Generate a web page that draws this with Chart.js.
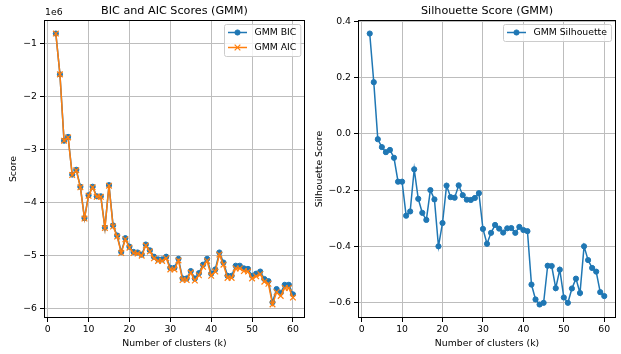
<!DOCTYPE html>
<html>
<head>
<meta charset="utf-8">
<script src="https://cdn.jsdelivr.net/npm/chart.js@4.4.1/dist/chart.umd.min.js"></script>
<style>
  html, body { margin: 0; padding: 0; background: #fff; }
  #wrap { position: relative; width: 621px; height: 354px; }
  canvas { position: absolute; top: 0; }
  #bicChart { left: 0; }
  #silChart { left: 310px; }
</style>
</head>
<body>
<div id="wrap">
  <canvas id="bicChart" width="310" height="354"></canvas>
  <canvas id="silChart" width="311" height="354"></canvas>
</div>
<script>
// number of clusters tried
const kValues = [2, 3, 4, 5, 6, 7, 8, 9, 10, 11, 12, 13, 14, 15, 16, 17, 18, 19, 20,
  21, 22, 23, 24, 25, 26, 27, 28, 29, 30, 31, 32, 33, 34, 35, 36, 37, 38, 39, 40,
  41, 42, 43, 44, 45, 46, 47, 48, 49, 50, 51, 52, 53, 54, 55, 56, 57, 58, 59, 60];

// scores are in units of 1e6 (offset text shown above the axis)
const bicScores = [-0.82, -1.59, -2.84, -2.77, -3.48, -3.39, -3.71, -4.30, -3.87, -3.71,
  -3.89, -3.89, -4.48, -3.68, -4.44, -4.63, -4.94, -4.68, -4.84, -4.94,
  -4.95, -4.99, -4.80, -4.91, -5.03, -5.08, -5.08, -5.03, -5.24, -5.24,
  -5.07, -5.44, -5.44, -5.30, -5.44, -5.34, -5.18, -5.07, -5.35, -5.27,
  -4.95, -5.14, -5.39, -5.39, -5.20, -5.20, -5.25, -5.26, -5.39, -5.35,
  -5.31, -5.45, -5.49, -5.89, -5.64, -5.71, -5.56, -5.56, -5.74];

const aicScores = [-0.82, -1.59, -2.84, -2.78, -3.49, -3.40, -3.72, -4.31, -3.88, -3.72,
  -3.90, -3.90, -4.49, -3.69, -4.46, -4.65, -4.96, -4.70, -4.86, -4.96,
  -4.97, -5.01, -4.82, -4.93, -5.06, -5.11, -5.11, -5.06, -5.27, -5.27,
  -5.10, -5.47, -5.47, -5.33, -5.48, -5.38, -5.22, -5.11, -5.39, -5.31,
  -4.99, -5.18, -5.43, -5.43, -5.25, -5.25, -5.30, -5.31, -5.44, -5.40,
  -5.36, -5.50, -5.54, -5.93, -5.70, -5.77, -5.62, -5.62, -5.80];

const silhouetteScores = [0.357, 0.184, -0.019, -0.047, -0.065, -0.057, -0.085, -0.170, -0.170, -0.291,
  -0.276, -0.126, -0.231, -0.281, -0.306, -0.200, -0.233, -0.400, -0.317, -0.184,
  -0.225, -0.227, -0.183, -0.218, -0.234, -0.235, -0.228, -0.211, -0.338, -0.391,
  -0.352, -0.324, -0.337, -0.351, -0.336, -0.335, -0.352, -0.331, -0.342, -0.346,
  -0.536, -0.589, -0.607, -0.601, -0.469, -0.470, -0.549, -0.483, -0.582, -0.601,
  -0.550, -0.515, -0.566, -0.400, -0.449, -0.477, -0.490, -0.563, -0.577];

const kTicks = [0, 10, 20, 30, 40, 50, 60];
const scoreTicks = [-6, -5, -4, -3, -2, -1];
const silhouetteTicks = [-0.6, -0.4, -0.2, 0.0, 0.2, 0.4];

const BLUE = '#1f77b4';
const ORANGE = '#ff7f0e';
const GRID = '#bdbdbd';

Chart.defaults.font.family = 'DejaVu Sans';
Chart.defaults.font.size = 9.3;
Chart.defaults.color = '#000';

function withMinus(v, digits) {
  const s = Math.abs(v).toFixed(digits);
  return v < 0 ? '\u2212' + s : s;
}

function points(ys) {
  return kValues.map((k, i) => ({ x: k, y: ys[i] }));
}

// black box round the plot area, like matplotlib spines
const framePlugin = {
  id: 'frame',
  afterDatasetsDraw(chart) {
    const { ctx, chartArea: a } = chart;
    ctx.save();
    ctx.strokeStyle = '#000';
    ctx.lineWidth = 1;
    const l = Math.round(a.left) + 0.5, t = Math.round(a.top) + 0.5;
    const r = Math.round(a.right) - 0.5, b = Math.round(a.bottom) - 0.5;
    ctx.strokeRect(l, t, r - l, b - t);
    ctx.restore();
  }
};

// legend drawn inside the plot area, upper right
const boxLegend = {
  id: 'boxLegend',
  afterDraw(chart) {
    const { ctx, chartArea: a } = chart;
    const sets = chart.data.datasets;
    ctx.save();
    ctx.font = '9.3px "DejaVu Sans"';
    const textW = Math.max(...sets.map(d => ctx.measureText(d.label).width));
    const pad = 4, handle = 19, gap = 7.5, row = 15;
    const w = pad + handle + gap + textW + pad;
    const h = 17 + (sets.length - 1) * row;
    const x0 = Math.round(a.right - 4.6 - w), y0 = Math.round(a.top + 4);
    ctx.fillStyle = 'rgba(255,255,255,0.8)';
    ctx.strokeStyle = '#cccccc';
    ctx.lineWidth = 1;
    ctx.beginPath();
    ctx.roundRect(x0 + 0.5, y0 + 0.5, w, h, 2);
    ctx.fill();
    ctx.stroke();
    sets.forEach((d, i) => {
      const cy = y0 + 8.5 + i * row;
      const hx = x0 + pad;
      ctx.strokeStyle = d.borderColor;
      ctx.lineWidth = d.borderWidth;
      ctx.beginPath();
      ctx.moveTo(hx, cy);
      ctx.lineTo(hx + handle, cy);
      ctx.stroke();
      ctx.fillStyle = d.pointBackgroundColor;
      ctx.strokeStyle = d.pointBorderColor;
      ctx.lineWidth = d.pointBorderWidth;
      Chart.helpers.drawPoint(ctx, { pointStyle: d.pointStyle, radius: d.pointRadius, borderWidth: d.pointBorderWidth, rotation: 0 }, hx + handle / 2, cy);
      ctx.fillStyle = '#000';
      ctx.textAlign = 'left';
      ctx.textBaseline = 'middle';
      ctx.fillText(d.label, hx + handle + gap, cy);
    });
    ctx.restore();
  }
};

// "1e6" offset text above the score axis
const offsetText = {
  id: 'offsetText',
  afterDraw(chart) {
    const { ctx, chartArea: a } = chart;
    ctx.save();
    ctx.font = '9.3px "DejaVu Sans"';
    ctx.fillStyle = '#000';
    ctx.textAlign = 'left';
    ctx.textBaseline = 'middle';
    ctx.fillText('1e6', a.left + 1, 13);
    ctx.restore();
  }
};

function gridOptions() {
  return { color: GRID, lineWidth: 1, tickColor: '#000', tickLength: 4, tickWidth: 1 };
}

function kAxis() {
  return {
    type: 'linear',
    min: -0.9,
    max: 62.9,
    afterBuildTicks: s => { s.ticks = kTicks.map(v => ({ value: v })); },
    afterFit: s => { s.height = 36; },
    ticks: { padding: 2, maxRotation: 0, callback: v => String(v) },
    grid: gridOptions(),
    border: { display: false },
    title: { display: true, text: 'Number of clusters (k)', padding: { top: 0, bottom: 5 } }
  };
}

function titleOptions(text) {
  return {
    display: true,
    text: text,
    fullSize: false,
    color: '#000',
    font: { size: 11.2, weight: 'normal' },
    padding: { top: 4, bottom: 2.6 }
  };
}

new Chart(document.getElementById('bicChart'), {
  type: 'line',
  data: {
    datasets: [{
      label: 'GMM BIC',
      data: points(bicScores),
      borderColor: BLUE,
      backgroundColor: BLUE,
      borderWidth: 1.5,
      pointStyle: 'circle',
      pointRadius: 2.6,
      pointBorderWidth: 1,
      pointBackgroundColor: BLUE,
      pointBorderColor: BLUE,
      tension: 0,
      order: 1
    }, {
      label: 'GMM AIC',
      data: points(aicScores),
      borderColor: ORANGE,
      backgroundColor: ORANGE,
      borderWidth: 1.5,
      pointStyle: 'crossRot',
      pointRadius: 4,
      pointBorderWidth: 1.2,
      pointBackgroundColor: ORANGE,
      pointBorderColor: ORANGE,
      tension: 0,
      order: 0
    }]
  },
  options: {
    responsive: false,
    animation: false,
    layout: { padding: { left: 0, right: 4, top: 0, bottom: 0 } },
    scales: {
      x: kAxis(),
      y: {
        type: 'linear',
        min: -6.186,
        max: -0.565,
        afterBuildTicks: s => { s.ticks = scoreTicks.map(v => ({ value: v })); },
        afterFit: s => { s.width = 44; },
        ticks: { padding: 3, callback: v => withMinus(v, 0) },
        grid: gridOptions(),
        border: { display: false },
        title: { display: true, text: 'Score', padding: { top: 8, bottom: 0 } }
      }
    },
    plugins: {
      legend: { display: false },
      tooltip: { enabled: false },
      title: titleOptions('BIC and AIC Scores (GMM)')
    }
  },
  plugins: [framePlugin, boxLegend, offsetText]
});

new Chart(document.getElementById('silChart'), {
  type: 'line',
  data: {
    datasets: [{
      label: 'GMM Silhouette',
      data: points(silhouetteScores),
      borderColor: BLUE,
      backgroundColor: BLUE,
      borderWidth: 1.5,
      pointStyle: 'circle',
      pointRadius: 2.6,
      pointBorderWidth: 1,
      pointBackgroundColor: BLUE,
      pointBorderColor: BLUE,
      tension: 0
    }]
  },
  options: {
    responsive: false,
    animation: false,
    layout: { padding: { left: 0, right: 2, top: 0, bottom: 0 } },
    scales: {
      x: kAxis(),
      y: {
        type: 'linear',
        min: -0.655,
        max: 0.405,
        afterBuildTicks: s => { s.ticks = silhouetteTicks.map(v => ({ value: v })); },
        afterFit: s => { s.width = 48; },
        ticks: { padding: 3, callback: v => withMinus(v, 1) },
        grid: gridOptions(),
        border: { display: false },
        title: { display: true, text: 'Silhouette Score', padding: { top: 4, bottom: 0 } }
      }
    },
    plugins: {
      legend: { display: false },
      tooltip: { enabled: false },
      title: titleOptions('Silhouette Score (GMM)')
    }
  },
  plugins: [framePlugin, boxLegend]
});
</script>
</body>
</html>
